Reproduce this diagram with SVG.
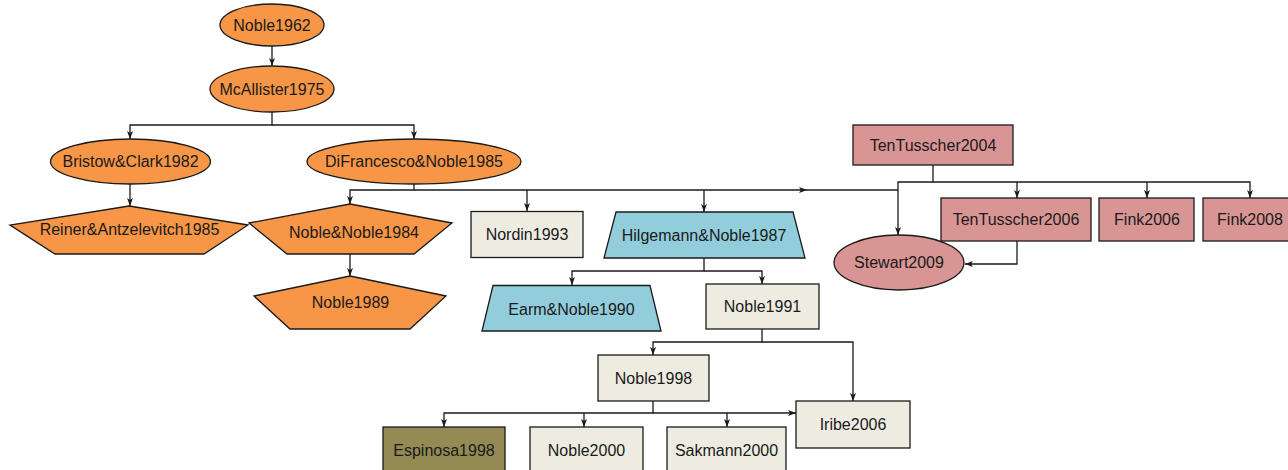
<svg xmlns="http://www.w3.org/2000/svg" width="1288" height="470" viewBox="0 0 1288 470">
<style>
.n{stroke:#1a1a1a;stroke-width:1.3}
.o{fill:#F79646}
.p{fill:#D99594}
.b{fill:#EEECE1}
.c{fill:#92CDDC}
.g{fill:#948A54}
text{font-family:"Liberation Sans",Arial,sans-serif;font-size:16px;fill:#1a1a1a;text-anchor:middle}
.e path{fill:none;stroke:#1a1a1a;stroke-width:1.3;marker-end:url(#ah)}
.e path.x{marker-end:none}
</style>
<defs>
<marker id="ah" markerUnits="userSpaceOnUse" markerWidth="9" markerHeight="7" refX="8" refY="3" orient="auto">
<path d="M0,0 L8,3 L0,6 L2,3 z" fill="#1a1a1a"/>
</marker>
</defs>
<rect width="1288" height="470" fill="#ffffff"/>
<g id="edges" class="e">
<path d="M272 46 V66"/>
<path d="M272 112 V125 H130 V139"/>
<path d="M272 125 H414 V139"/>
<path d="M130 184 V206"/>
<path d="M414 184 V190 H350 V204"/>
<path d="M414 190 H807"/>
<path class="x" d="M807 190 H898"/>
<path d="M527 190 V211"/>
<path d="M704 190 V212"/>
<path d="M350 254 V276"/>
<path d="M933 165 V182 H898 V235"/>
<path d="M933 182 H1250 V198"/>
<path d="M1017 182 V198"/>
<path d="M1147 182 V198"/>
<path d="M1017 241 V264 H965"/>
<path d="M704 258 V271 H572 V285"/>
<path d="M704 271 H762 V284"/>
<path d="M762 329 V342 H653 V355"/>
<path d="M762 342 H853 V401"/>
<path d="M653 401 V413 H444 V427"/>
<path d="M584 413 V427"/>
<path d="M727 413 V427"/>
<path d="M653 413 H796"/>
</g>
<g id="Noble1962"><ellipse class="n o" cx="272" cy="25" rx="52" ry="21"/><text x="272" y="25" dy="0.35em">Noble1962</text></g>
<g id="McAllister1975"><ellipse class="n o" cx="272" cy="89" rx="62" ry="23"/><text x="272" y="89" dy="0.35em">McAllister1975</text></g>
<g id="BristowClark1982"><ellipse class="n o" cx="130.5" cy="161.5" rx="80" ry="22.5"/><text x="130.5" y="161.5" dy="0.35em">Bristow&amp;Clark1982</text></g>
<g id="DiFrancescoNoble1985"><ellipse class="n o" cx="414" cy="161.5" rx="107" ry="22.5"/><text x="414" y="161.5" dy="0.35em">DiFrancesco&amp;Noble1985</text></g>
<g id="ReinerAntzelevitch1985"><polygon class="n o" points="129,206 248,225 204,254 55,254 10,225"/><text x="129.5" y="229" dy="0.35em">Reiner&amp;Antzelevitch1985</text></g>
<g id="NobleNoble1984"><polygon class="n o" points="350,204 452,223 414,254 287,254 249,223"/><text x="354" y="232" dy="0.35em">Noble&amp;Noble1984</text></g>
<g id="Noble1989"><polygon class="n o" points="350,276 446,296 410,329 290,329 254,296"/><text x="350.5" y="302" dy="0.35em">Noble1989</text></g>
<g id="Nordin1993"><rect class="n b" x="471" y="211.5" width="112" height="46"/><text x="527" y="234.5" dy="0.35em">Nordin1993</text></g>
<g id="HilgemannNoble1987"><polygon class="n c" points="616,212 793,212 805,258 604,258"/><text x="704" y="235" dy="0.35em">Hilgemann&amp;Noble1987</text></g>
<g id="EarmNoble1990"><polygon class="n c" points="493,285.5 650,285.5 661,331 482,331"/><text x="571.5" y="309" dy="0.35em">Earm&amp;Noble1990</text></g>
<g id="Noble1991"><rect class="n b" x="706" y="284" width="113" height="45"/><text x="762.5" y="306.5" dy="0.35em">Noble1991</text></g>
<g id="Noble1998"><rect class="n b" x="598" y="355" width="111" height="46"/><text x="653.5" y="378" dy="0.35em">Noble1998</text></g>
<g id="Iribe2006"><rect class="n b" x="796" y="401" width="114" height="47"/><text x="853" y="424.5" dy="0.35em">Iribe2006</text></g>
<g id="Espinosa1998"><rect class="n g" x="383" y="427" width="122" height="46"/><text x="444" y="450" dy="0.35em">Espinosa1998</text></g>
<g id="Noble2000"><rect class="n b" x="530" y="427" width="113" height="46"/><text x="586.5" y="450" dy="0.35em">Noble2000</text></g>
<g id="Sakmann2000"><rect class="n b" x="667" y="427" width="119" height="46"/><text x="726.5" y="450" dy="0.35em">Sakmann2000</text></g>
<g id="TenTusscher2004"><rect class="n p" x="853" y="125" width="160" height="40"/><text x="933" y="145" dy="0.35em">TenTusscher2004</text></g>
<g id="TenTusscher2006"><rect class="n p" x="941" y="198" width="150" height="43"/><text x="1016" y="219.5" dy="0.35em">TenTusscher2006</text></g>
<g id="Fink2006"><rect class="n p" x="1099" y="198" width="95" height="43"/><text x="1147" y="219.5" dy="0.35em">Fink2006</text></g>
<g id="Fink2008"><rect class="n p" x="1203" y="198" width="94" height="43"/><text x="1250" y="219.5" dy="0.35em">Fink2008</text></g>
<g id="Stewart2009"><ellipse class="n p" cx="899" cy="262.5" rx="65" ry="27.5"/><text x="899" y="262.5" dy="0.35em">Stewart2009</text></g>
</svg>
